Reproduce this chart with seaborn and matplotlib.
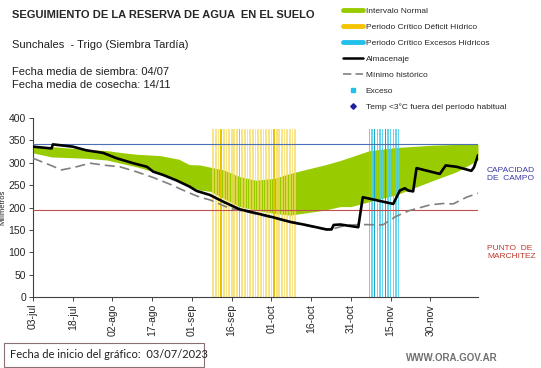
import matplotlib
matplotlib.use("Agg")
import matplotlib.pyplot as plt
from matplotlib.lines import Line2D
from matplotlib.patches import Rectangle
import numpy as np
import pandas as pd
import seaborn as sns

START = pd.Timestamp("2023-07-03")
END = pd.Timestamp("2023-12-18")

# intervalo normal (dias desde el inicio, limite superior, limite inferior)
band_days = [0, 7, 20, 28, 33, 39, 48, 55, 59, 63, 67, 72, 78, 84, 91, 97, 103, 110,
             116, 120, 127, 137, 150, 155, 160, 168]
band_upper = [336, 336, 330, 327, 323, 319, 316, 308, 296, 295, 290, 284, 269, 261, 265,
              276, 285, 295, 305, 313, 327, 334, 339, 340, 341, 341]
band_lower = [322, 313, 310, 306, 299, 291, 276, 258, 248, 239, 236, 220, 202, 194, 187,
              183, 188, 194, 202, 202, 213, 228, 258, 269, 280, 306]

# almacenaje
alm_days = [0, 7, 7.5, 15, 20, 26.5, 31.6, 37.8, 43, 45.4, 49, 54, 59, 61.8, 66.8, 71.8,
            78, 84.4, 90.7, 97, 103, 110.8, 112.7, 113.5, 116, 122.8, 124.5, 136, 138.5,
            140.4, 141.6, 143.5, 144.8, 153.6, 155.8, 159.9, 165.5, 166.5, 168]
alm_vals = [336, 332, 341, 336, 328, 322, 310, 299, 291, 280, 273, 261, 247, 237, 228, 213,
            196, 187, 178, 168, 161, 151, 151, 161, 162, 156, 223, 208, 238,
            243, 238, 236, 288, 275, 294, 291, 282, 290, 317]

# minimo historico
min_days = [0, 6.4, 10.8, 15.8, 21.5, 27.8, 32.8, 39, 45.4, 51.7, 58, 63, 66.8, 74.3, 78,
            90.7, 97, 103, 110.8, 113, 118, 123.4, 132, 137, 142, 150, 155, 158.6, 163.7, 168]
min_vals = [310, 295, 284, 290, 299, 294, 291, 280, 267, 252, 235, 223, 217, 198, 194,
            177, 167, 160, 150, 152, 160, 162, 161, 180, 193, 206, 209, 208, 223, 232]

capacidad_campo = 342
punto_marchitez = 194
stripe_top = 375

deficit_period = ("2023-09-09", "2023-10-10")
deficit_strong = ["2023-09-12", "2023-09-19", "2023-10-02"]
exceso_period = ("2023-11-07", "2023-11-18")
exceso_strong = ["2023-11-09", "2023-11-13"]

tick_dates = pd.date_range("2023-07-03", "2023-11-30", freq="15D")
tick_labels = ["03-jul", "18-jul", "02-ago", "17-ago", "01-sep", "16-sep", "01-oct",
               "16-oct", "31-oct", "15-nov", "30-nov"]


def to_dates(days):
    return START + pd.to_timedelta(np.asarray(days, dtype=float), unit="D")


sns.set_style("white")
plt.rcParams["font.family"] = ["Liberation Sans", "DejaVu Sans"]

fig = plt.figure(figsize=(5.41, 3.68), dpi=100)
ax = fig.add_axes([33 / 541, 1 - 297 / 368, (478 - 33) / 541, (297 - 118) / 368])

ax.fill_between(to_dates(band_days), band_lower, band_upper, color="#99cc00", lw=0, zorder=1)

d_days = pd.date_range(*deficit_period, freq="D")
ax.bar(d_days, stripe_top, width=0.65, color="#f5dc60", alpha=0.75, lw=0, zorder=2)
ax.bar(pd.to_datetime(deficit_strong), stripe_top, width=0.45, color="#e8c400", lw=0, zorder=2)
e_days = pd.date_range(*exceso_period, freq="D")
ax.bar(e_days, stripe_top, width=0.55, color="#50d0ee", alpha=0.85, lw=0, zorder=2)
ax.bar(pd.to_datetime(exceso_strong), stripe_top, width=0.45, color="#1aa6cc", lw=0, zorder=2)

ax.axhline(capacidad_campo, color="#4a6fb5", lw=0.8, zorder=3)
ax.axhline(punto_marchitez, color="#c0504d", lw=0.8, zorder=3)

df_min = pd.DataFrame({"fecha": to_dates(min_days), "mm": min_vals})
df_alm = pd.DataFrame({"fecha": to_dates(alm_days), "mm": alm_vals})
sns.lineplot(data=df_min, x="fecha", y="mm", ax=ax, color="#808080", lw=1.2,
             dashes=False, linestyle=(0, (6, 3)), zorder=4)
sns.lineplot(data=df_alm, x="fecha", y="mm", ax=ax, color="black", lw=1.9, zorder=5)

ax.set_xlim(START, END)
ax.set_ylim(0, 400)
ax.set_yticks(range(0, 401, 50))
ax.tick_params(axis="y", labelsize=7.5, length=3, width=0.6, pad=2, left=True)
ax.set_xticks(tick_dates)
ax.set_xticklabels(tick_labels, rotation=90, fontsize=7.5)
ax.tick_params(axis="x", length=3, width=0.6, pad=2, bottom=True)
ax.set_xlabel("")
ax.set_ylabel("Milímetros", fontsize=5.5)
ax.yaxis.set_label_coords(-0.06, 0.5)
for s in ["top", "right"]:
    ax.spines[s].set_visible(False)
for s in ["left", "bottom"]:
    ax.spines[s].set_color("#404040")
    ax.spines[s].set_linewidth(0.8)

fig.text(12 / 541, 1 - 15 / 368, "SEGUIMIENTO DE LA RESERVA DE AGUA  EN EL SUELO",
         fontsize=8, fontweight="bold", va="center", ha="left")
fig.text(12 / 541, 1 - 45 / 368, "Sunchales  - Trigo (Siembra Tardía)", fontsize=8,
         va="center", ha="left", color="#202020")
fig.text(12 / 541, 1 - 72 / 368, "Fecha media de siembra: 04/07", fontsize=8,
         va="center", ha="left", color="#202020")
fig.text(12 / 541, 1 - 85 / 368, "Fecha media de cosecha: 14/11", fontsize=8,
         va="center", ha="left", color="#202020")

handles = [
    Line2D([], [], color="#99cc00", lw=3.5),
    Line2D([], [], color="#f5c400", lw=3.5),
    Line2D([], [], color="#22c0ea", lw=3.5),
    Line2D([], [], color="black", lw=1.8),
    Line2D([], [], color="#808080", lw=1.2, linestyle=(0, (5, 2.5))),
    Line2D([], [], color="#22c0ea", lw=0, marker="s", markersize=2.2),
    Line2D([], [], color="#2020a0", lw=0, marker="D", markersize=2.8),
]
labels = ["Intervalo Normal", "Periodo Crítico Déficit Hídrico",
          "Periodo Crítico Excesos Hídricos", "Almacenaje", "Mínimo histórico",
          "Exceso", "Temp <3°C fuera del período habitual"]
fig.legend(handles, labels, loc="upper left", bbox_to_anchor=(343 / 541, 1 - 7 / 368),
           frameon=False, fontsize=6, handlelength=2.4, handletextpad=0.3,
           labelspacing=0.98, borderaxespad=0, borderpad=0)

fig.text(487 / 541, 1 - 174 / 368, "CAPACIDAD\nDE  CAMPO", fontsize=6, color="#3a3aa8",
         va="center", ha="left", linespacing=1.2)
fig.text(487 / 541, 1 - 252 / 368, "PUNTO  DE\nMARCHITEZ", fontsize=6, color="#c0392b",
         va="center", ha="left", linespacing=1.2)

fig.patches.append(Rectangle((4 / 541, 1 - 367 / 368), 200 / 541, 24 / 368,
                             transform=fig.transFigure, fill=False, ec="#8a7070", lw=0.8))
fig.text(10 / 541, 1 - 355 / 368, "Fecha de inicio del gráfico:  03/07/2023", fontsize=8,
         va="center", ha="left", family=["Lato", "DejaVu Sans"], color="#202020")
fig.text(498 / 541, 1 - 358 / 368, "WWW.ORA.GOV.AR", fontsize=7, color="#707070",
         fontweight="bold", va="center", ha="right")

fig.savefig("out.png", dpi=100)
